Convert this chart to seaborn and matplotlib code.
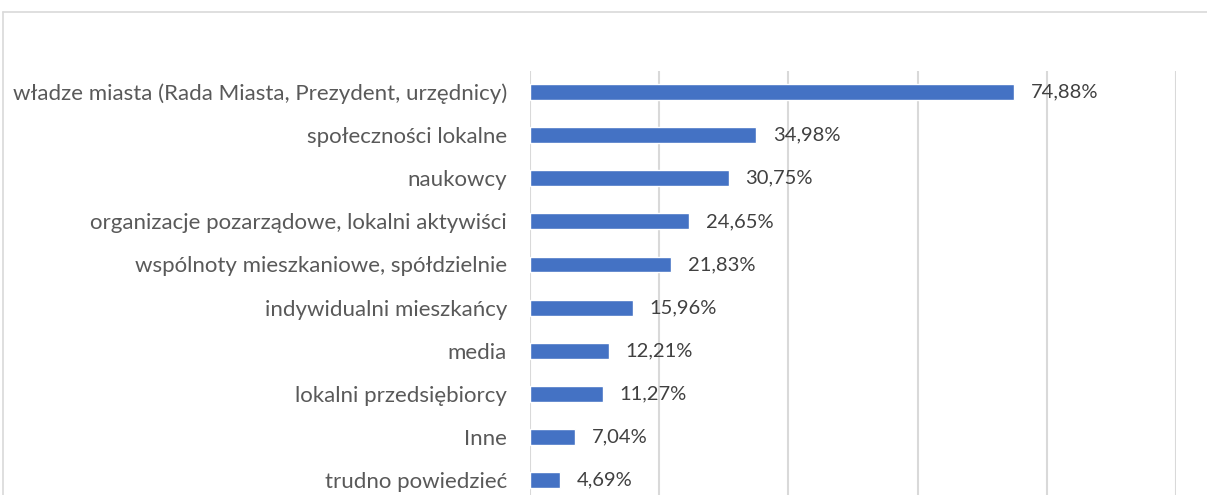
import matplotlib
matplotlib.use("Agg")
import matplotlib.pyplot as plt
import seaborn as sns
import pandas as pd
from matplotlib.lines import Line2D

# Data
categories = [
    "władze miasta (Rada Miasta, Prezydent, urzędnicy)",
    "społeczności lokalne",
    "naukowcy",
    "organizacje pozarządowe, lokalni aktywiści",
    "wspólnoty mieszkaniowe, spółdzielnie",
    "indywidualni mieszkańcy",
    "media",
    "lokalni przedsiębiorcy",
    "Inne",
    "trudno powiedzieć",
]
values = [74.88, 34.98, 30.75, 24.65, 21.83, 15.96, 12.21, 11.27, 7.04, 4.69]
labels = ["74,88%", "34,98%", "30,75%", "24,65%", "21,83%",
          "15,96%", "12,21%", "11,27%", "7,04%", "4,69%"]

df = pd.DataFrame({"cat": categories, "val": values})

sns.set_style("white")
plt.rcParams["font.family"] = ["Lato", "DejaVu Sans"]

fig = plt.figure(figsize=(12.07, 4.95), dpi=100)
ax = fig.add_axes([530 / 1207, 0.0, (1176 - 530) / 1207, 1 - 71 / 495])

sns.barplot(data=df, x="val", y="cat", color="#4472C4", width=0.37,
            saturation=1, ax=ax)

ax.set_xlim(0, 100)
ax.set_ylim(9.35, -0.49)
ax.set_xticks([0, 20, 40, 60, 80, 100])
ax.xaxis.grid(True, color="#D9D9D9", linewidth=1.5)
ax.set_axisbelow(True)
ax.tick_params(axis="y", length=0, pad=16.5, labelsize=16, labelcolor="#595959")
ax.tick_params(axis="x", length=0, labelbottom=False)
ax.set_xlabel("")
ax.set_ylabel("")
for s in ax.spines.values():
    s.set_visible(False)

ax.bar_label(ax.containers[0], labels=labels, padding=12, fontsize=14.5,
             color="#404040")

# chart frame
fig.add_artist(Line2D([3 / 1207, 3 / 1207], [0, 1 - 12 / 495], color="#D9D9D9", lw=1.2))
fig.add_artist(Line2D([3 / 1207, 1], [1 - 12 / 495, 1 - 12 / 495], color="#D9D9D9", lw=1.2))

fig.savefig("out.png", dpi=100)
